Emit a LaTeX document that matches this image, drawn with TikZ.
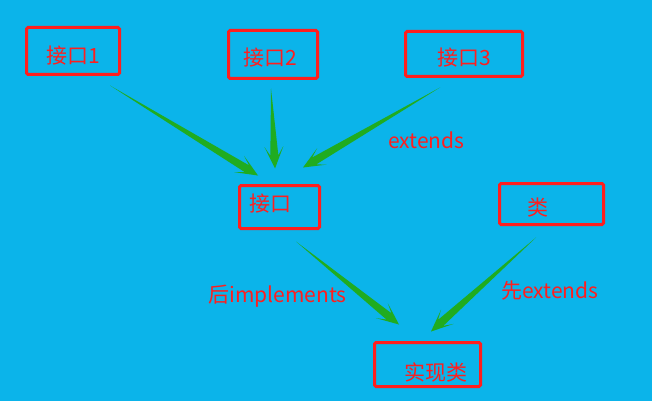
\documentclass[tikz,border=0pt]{standalone}
\usepackage{fontspec}
\setmainfont{Noto Sans CJK SC}
\usetikzlibrary{calc}

\definecolor{bgcolor}{RGB}{11,180,234}
\definecolor{boxcolor}{RGB}{255,30,30}
\definecolor{arrowcolor}{RGB}{32,172,32}

% tapered arrow: thin tail, wide barbed head
\newcommand{\fatarrow}[2]{%
\fill[arrowcolor] (#1)
  --($($(#2)!13pt!(#1)$)!4pt!90:(#1)$)
  --($($(#2)!22pt!(#1)$)!9.5pt!90:(#1)$)
  --(#2)
  --($($(#2)!22pt!(#1)$)!9.5pt!-90:(#1)$)
  --($($(#2)!13pt!(#1)$)!4pt!-90:(#1)$)
  --cycle;}

\tikzset{
  box/.style={draw=boxcolor, line width=3pt, rounded corners=1.5pt, inner sep=0pt},
  txt/.style={text=boxcolor, font=\fontsize{21}{25}\selectfont, inner sep=0pt},
}

\begin{document}
\begin{tikzpicture}[x=1pt,y=-1pt]
\fill[bgcolor] (0,0) rectangle (652,401);
\useasboundingbox (0,0) rectangle (652,401);

% boxes
\node[box, minimum width=93pt, minimum height=47pt,
  label={[txt, name=i1t, yshift=-5pt]center:接口1}] (i1) at (73,51) {};
\node[box, minimum width=89pt, minimum height=48pt,
  label={[txt, name=i2t, xshift=-3pt, yshift=-3.5pt]center:接口2}] (i2) at (273,54.5) {};
\node[box, minimum width=117pt, minimum height=45pt,
  label={[txt, name=i3t, yshift=-4pt]center:接口3}] (i3) at (464,54) {};
\node[box, minimum width=80pt, minimum height=43pt,
  label={[txt, name=jkt, xshift=-9.5pt, yshift=3.5pt]center:接口}] (jk) at (279.5,207) {};
\node[box, minimum width=104pt, minimum height=41pt,
  label={[txt, name=clst, xshift=-13.5pt, yshift=-3.5pt]center:类}] (cls) at (551.5,204) {};
\node[box, minimum width=106pt, minimum height=44pt,
  label={[txt, name=implt, xshift=8pt, yshift=-7.5pt]center:实现类}] (impl) at (427.5,364.5) {};

% labels
\node[txt] (ext) at (426.5,140) {extends};
\node[txt] (aft) at (277.5,296) {后implements};
\node[txt] (fst) at (550,291) {先extends};

% arrow ends
\coordinate (t1) at ($(i1.south)+(37,9.5)$);
\coordinate (h1) at ($(jk.north)+(-21.5,-8.5)$);
\coordinate (t2) at ($(i2.south)+(-2,8.5)$);
\coordinate (h2) at ($(jk.north)+(-4.5,-15.5)$);
\coordinate (t3) at ($(i3.south)+(-24,9.5)$);
\coordinate (h3) at ($(jk.north)+(23.5,-16.5)$);
\coordinate (t4) at ($(jk.south)+(16.5,11.5)$);
\coordinate (h4) at ($(impl.north)+(-28.5,-16.5)$);
\coordinate (t5) at ($(cls.south)+(-15.5,11.5)$);
\coordinate (h5) at ($(impl.north)+(3.5,-9.5)$);

\fatarrow{t1}{h1}
\fatarrow{t2}{h2}
\fatarrow{t3}{h3}
\fatarrow{t4}{h4}
\fatarrow{t5}{h5}
\end{tikzpicture}
\end{document}
